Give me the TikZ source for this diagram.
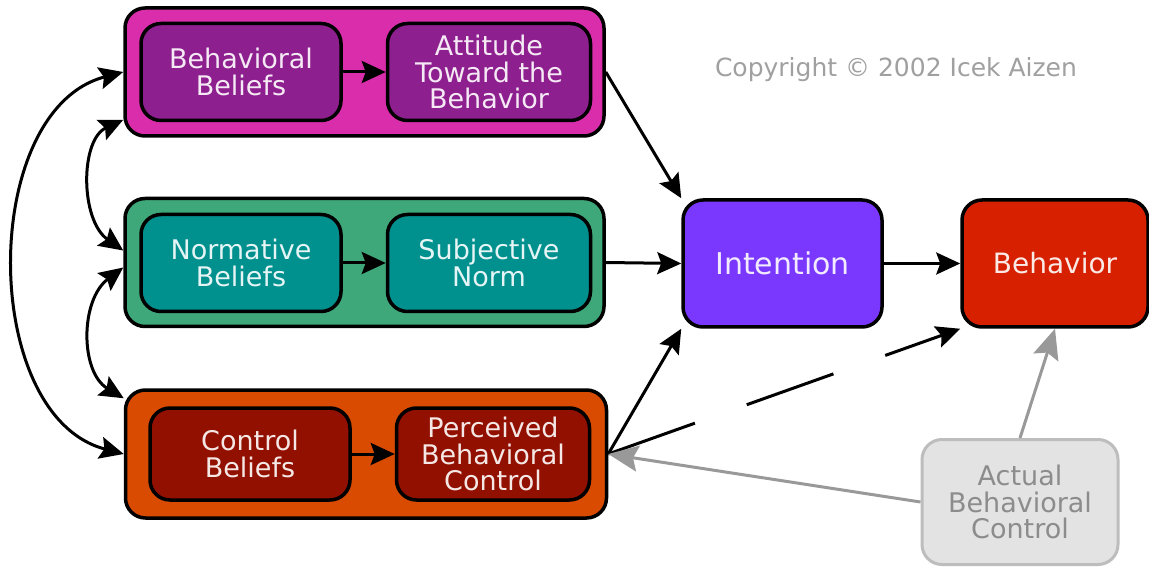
\documentclass[tikz,border=0pt]{standalone}
\usepackage{fontspec}
\setmainfont{DejaVu Sans}
\usetikzlibrary{arrows.meta,calc}
\definecolor{magout}{HTML}{DA2DAB}
\definecolor{magin}{HTML}{8E1F8E}
\definecolor{grnout}{HTML}{3FA87A}
\definecolor{grnin}{HTML}{00908E}
\definecolor{orgout}{HTML}{D84B00}
\definecolor{orgin}{HTML}{921000}
\definecolor{intc}{HTML}{7A38FF}
\definecolor{behc}{HTML}{D62000}
\definecolor{abcfill}{HTML}{E3E3E3}
\definecolor{abcline}{HTML}{BDBDBD}
\definecolor{abctext}{HTML}{8C8C8C}
\definecolor{copyc}{HTML}{A0A0A0}
\definecolor{gline}{HTML}{999999}
\begin{document}
\begin{tikzpicture}[x=1pt,y=-1pt,
  outerbox/.style={draw=black, line width=3.5pt, rounded corners=20pt, inner sep=0pt},
  innerbox/.style={draw=black, line width=3.5pt, rounded corners=20pt, inner sep=0pt,
    align=center, font=\fontsize{27}{26.5}\selectfont},
  conn/.style={line width=3pt, -{Stealth[length=24pt,width=22pt,inset=4pt]}},
  biconn/.style={line width=3pt, {Stealth[length=24pt,width=22pt,inset=4pt]}-{Stealth[length=24pt,width=22pt,inset=4pt]}},
  gconn/.style={draw=gline, line width=3pt, -{Stealth[length=30pt,width=26pt,inset=5pt]}, gline}
]
\useasboundingbox (0,0) rectangle (1149,569);
\fill[white] (0,0) rectangle (1149,569);

% outer group boxes
\node[outerbox, fill=magout, minimum width=479pt, minimum height=128pt] (TB) at (364.5,72) {};
\node[outerbox, fill=grnout, minimum width=479pt, minimum height=128pt] (MB) at (364.5,262.5) {};
\node[outerbox, fill=orgout, minimum width=481pt, minimum height=128pt] (BT) at (366,454) {};

% inner boxes
\node[innerbox, fill=magin, text=white!90!magin, minimum width=200pt, minimum height=97pt] (BBel) at (241,72) {Behavioral\\Beliefs};
\node[innerbox, fill=magin, text=white!90!magin, minimum width=203pt, minimum height=97pt] (ATB) at (489,72) {Attitude\\Toward the\\Behavior};
\node[innerbox, fill=grnin, text=white!90!grnin, minimum width=200pt, minimum height=97pt] (NBel) at (241,263) {Normative\\Beliefs};
\node[innerbox, fill=grnin, text=white!90!grnin, minimum width=203pt, minimum height=97pt] (SN) at (489,263) {Subjective\\Norm};
\node[innerbox, fill=orgin, text=white!90!orgin, minimum width=200pt, minimum height=92pt] (CBel) at (250,454) {Control\\Beliefs};
\node[innerbox, fill=orgin, text=white!90!orgin, minimum width=193pt, minimum height=92pt] (PBC) at (493,454) {Perceived\\Behavioral\\Control};

% intention, behavior, actual control
\node[innerbox, fill=intc, text=white!90!intc, minimum width=199pt, minimum height=127pt, font=\fontsize{30}{30}\selectfont] (Int) at (782.5,263.5) {Intention};
\node[innerbox, fill=behc, text=white!90!behc, minimum width=186pt, minimum height=127pt, font=\fontsize{28}{28}\selectfont] (Beh) at (1055,263.5) {Behavior};
\node[innerbox, draw=abcline, line width=3pt, fill=abcfill, text=abctext, minimum width=196pt, minimum height=125pt] (ABC) at (1020,502) {Actual\\Behavioral\\Control};

% copyright
\node[text=copyc, font=\fontsize{25}{26}\selectfont, anchor=center] (copy) at (896,70) {Copyright © 2002 Icek Aizen};

% inner arrows
\draw[conn] (BBel) -- (ATB);
\draw[conn] (NBel) -- (SN);
\draw[conn] (CBel) -- (PBC);

% to intention
\draw[conn] (TB.east) -- (Int.north west);
\draw[conn] (MB.east) -- (Int.west);
\draw[conn] (BT.east) -- (Int.south west);
\draw[conn] (Int) -- (Beh);

% dashed PBC -> behavior
\draw[conn, dash pattern=on 92pt off 55pt] (BT.east) -- (Beh.south west);

% actual behavioral control
\draw[gconn] (ABC.west) -- (BT.east);
\draw[gconn] (ABC.north) -- (Beh.south);

% left correlations
\coordinate (tbw) at (TB.west);
\coordinate (tbsw) at ($(TB.south west)+(0,-18)$);
\coordinate (mbw1) at ($(MB.west)+(0,-12)$);
\coordinate (mbw2) at ($(MB.west)+(0,5)$);
\coordinate (btnw) at ($(BT.north west)+(0,10)$);
\coordinate (btw) at (BT.west);
\draw[biconn] (tbw) .. controls (-21,110) and (-21,416) .. (btw);
\draw[biconn] (tbsw) .. controls (80,140) and (80,220) .. (mbw1);
\draw[biconn] (mbw2) .. controls (80,300) and (80,372) .. (btnw);
\end{tikzpicture}
\end{document}
